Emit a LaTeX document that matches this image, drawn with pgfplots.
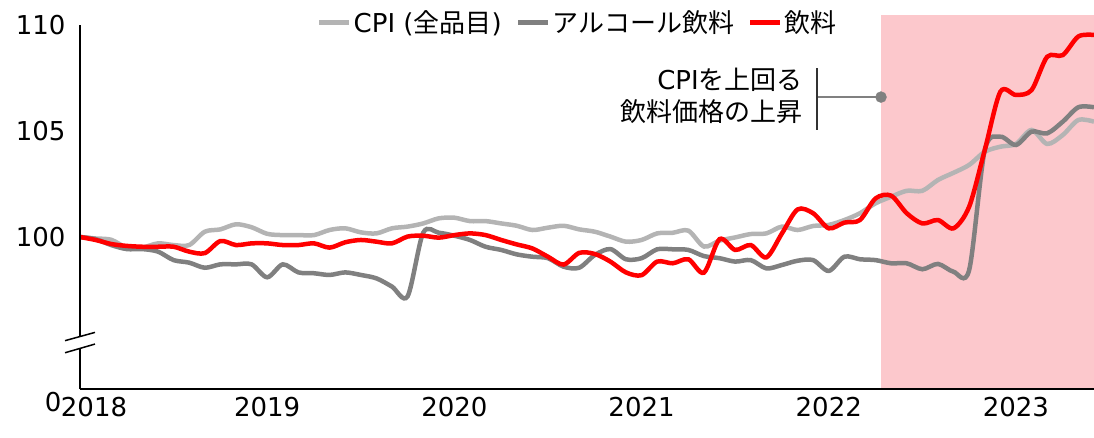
\documentclass[border=0pt]{standalone}
\usepackage{fontspec}
\setmainfont{DejaVu Sans}
\newfontfamily\jp{Noto Sans CJK JP}
\usepackage{pgfplots}
\pgfplotsset{compat=1.18}
\definecolor{cpi}{RGB}{180,180,180}
\definecolor{alc}{RGB}{128,128,128}
\definecolor{bev}{RGB}{255,0,0}
\definecolor{shade}{RGB}{252,200,204}
\newcommand{\bigf}{\fontsize{26}{32}\selectfont}
\begin{document}
\begin{tikzpicture}
\begin{axis}[
  scale only axis, width=1014pt, height=364pt,
  xmin=0, xmax=65, ymin=92.83, ymax=110,
  axis x line*=bottom, axis y line*=left,
  axis line style={-, line width=1.5pt, black},
  axis on top,
  clip=false,
  major tick length=0pt,
  xtick={12,24,36,48,60},
  xticklabels={2019,2020,2021,2022,2023},
  extra x ticks={0.9},
  extra x tick labels={2018},
  ytick={100,105,110},
  yticklabels={100,105,110},
  extra y ticks={92.83},
  extra y tick labels={0},
  extra y tick style={yticklabel style={yshift=-13pt, xshift=-4pt}},
  tick label style={font=\bigf},
  yticklabel style={xshift=-11pt},
  xticklabel style={yshift=-5pt},
  legend style={at={(0.491,1.008)}, anchor=center, draw=none, fill=none,
    font=\bigf, legend columns=3,
    nodes={inner sep=2pt},
    /tikz/every even column/.append style={column sep=12pt}},
  legend image code/.code={\draw[#1, line width=5pt] (0pt,0pt) -- (30pt,0pt);},
]
\addplot[fill=shade, draw=none, forget plot] coordinates {(51.35,92.83) (66,92.83) (66,110.47) (51.35,110.47) (51.35,92.83)};

\addplot[cpi, line width=4.5pt, smooth, tension=0.5] coordinates {
(0,100.0) (1,99.93) (2,99.87) (3,99.5) (4,99.5) (5,99.7) (6,99.62) (7,99.62)
(8,100.25) (9,100.36) (10,100.6) (11,100.46) (12,100.15) (13,100.09) (14,100.09) (15,100.09)
(16,100.33) (17,100.41) (18,100.22) (19,100.17) (20,100.41) (21,100.49) (22,100.64) (23,100.88)
(24,100.91) (25,100.75) (26,100.75) (27,100.64) (28,100.53) (29,100.33) (30,100.44) (31,100.53)
(32,100.36) (33,100.25) (34,100.02) (35,99.78) (36,99.86) (37,100.17) (38,100.2) (39,100.3)
(40,99.55) (41,99.83) (42,99.98) (43,100.14) (44,100.17) (45,100.49) (46,100.33) (47,100.52)
(48,100.57) (49,100.8) (50,101.12) (51,101.59) (52,101.9) (53,102.18) (54,102.18) (55,102.69)
(56,103.03) (57,103.4) (58,104.02) (59,104.26) (60,104.39) (61,105.05) (62,104.39) (63,104.81)
(64,105.52) (65,105.44)};
\addlegendentry{CPI ({\jp 全品目})}

\addplot[alc, line width=4.5pt, smooth, tension=0.5] coordinates {
(0,100.0) (1,99.9) (2,99.62) (3,99.43) (4,99.43) (5,99.31) (6,98.91) (7,98.79)
(8,98.55) (9,98.71) (10,98.71) (11,98.71) (12,98.1) (13,98.71) (14,98.33) (15,98.29)
(16,98.21) (17,98.33) (18,98.21) (19,98.05) (20,97.66) (21,97.2) (22,100.2) (23,100.2)
(24,100.06) (25,99.86) (26,99.54) (27,99.39) (28,99.18) (29,99.07) (30,99.0) (31,98.6)
(32,98.55) (33,99.15) (34,99.43) (35,98.95) (36,99.0) (37,99.42) (38,99.42) (39,99.39)
(40,99.1) (41,99.0) (42,98.84) (43,98.91) (44,98.52) (45,98.68) (46,98.88) (47,98.91)
(48,98.4) (49,99.07) (50,98.95) (51,98.91) (52,98.76) (53,98.76) (54,98.48) (55,98.73)
(56,98.36) (57,98.44) (58,104.1) (59,104.73) (60,104.34) (61,104.97) (62,104.89) (63,105.44)
(64,106.12) (65,106.12)};
\addlegendentry{{\jp アルコール飲料}}

\addplot[bev, line width=4.5pt, smooth, tension=0.5] coordinates {
(0,100.0) (1,99.86) (2,99.67) (3,99.58) (4,99.54) (5,99.54) (6,99.54) (7,99.31)
(8,99.24) (9,99.81) (10,99.62) (11,99.70) (12,99.70) (13,99.62) (14,99.62) (15,99.70)
(16,99.50) (17,99.75) (18,99.86) (19,99.78) (20,99.70) (21,100.02) (22,100.06) (23,99.97)
(24,100.09) (25,100.17) (26,100.09) (27,99.86) (28,99.65) (29,99.46) (30,99.07) (31,98.7)
(32,99.25) (33,99.2) (34,98.84) (35,98.33) (36,98.2) (37,98.84) (38,98.76) (39,98.95)
(40,98.32) (41,99.9) (42,99.39) (43,99.62) (44,99.04) (45,100.17) (46,101.3) (47,101.12)
(48,100.41) (49,100.68) (50,100.8) (51,101.82) (52,101.95) (53,101.12) (54,100.64) (55,100.8)
(56,100.41) (57,101.43) (58,104.1) (59,106.85) (60,106.7) (61,106.93) (62,108.5) (63,108.58)
(64,109.46) (65,109.53)};
\addlegendentry{{\jp 飲料}}

% annotation
\addplot[alc, line width=2pt, forget plot] coordinates {(47.24,106.6) (51.35,106.6)};
\addplot[alc, only marks, mark=*, mark size=5.5pt, mark options={fill=alc, draw=alc}, forget plot] coordinates {(51.35,106.6)};
\addplot[black!80, line width=1.3pt, forget plot] coordinates {(47.24,107.97) (47.24,105.05)};
\node[anchor=east, align=right, font=\bigf, inner sep=0pt] at (axis cs:46.35,106.65)
  {CPI{\jp を上回る}\\{\jp 飲料価格の上昇}};

\coordinate (b1) at (axis cs:-0.96,95.11);
\coordinate (b2) at (axis cs:0.96,95.50);
\coordinate (b3) at (axis cs:0.96,94.95);
\coordinate (b4) at (axis cs:-0.96,94.54);
\end{axis}
\fill[white] (b1) -- (b2) -- (b3) -- (b4) -- cycle;
\draw[line width=1.5pt] (b1) -- (b2);
\draw[line width=1.5pt] (b4) -- (b3);
\pgfresetboundingbox
\path[use as bounding box] (-80pt,-48pt) rectangle (1014pt,389pt);
\end{tikzpicture}
\end{document}
